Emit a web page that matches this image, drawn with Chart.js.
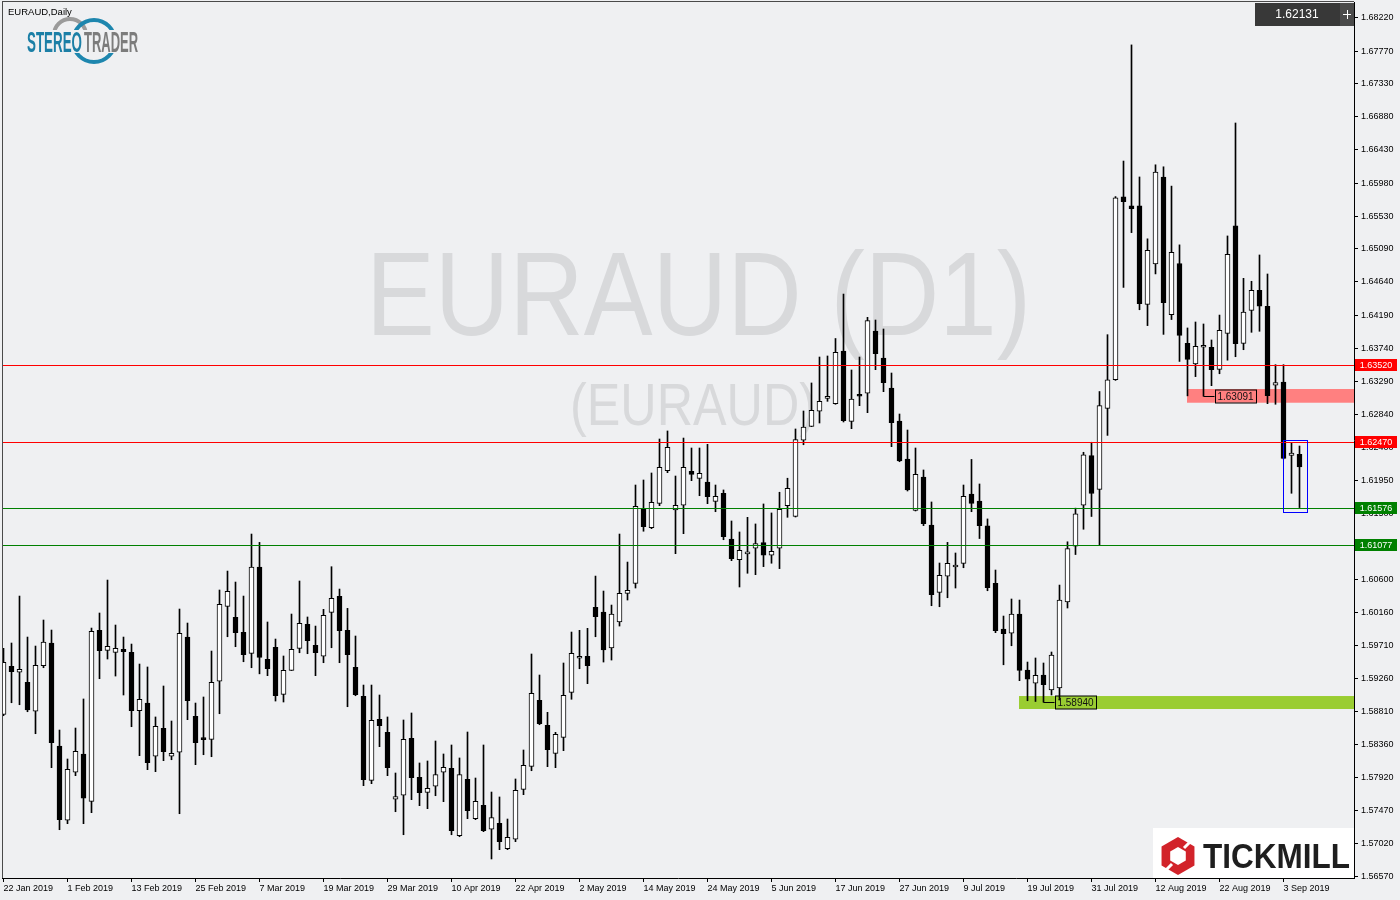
<!DOCTYPE html>
<html>
<head>
<meta charset="utf-8">
<title>EURAUD Daily</title>
<script src="https://cdn.jsdelivr.net/npm/chart.js@4.4.1/dist/chart.umd.min.js"></script>
<style>
html, body { margin: 0; padding: 0; background: #eff0f2; }
canvas { display: block; }
</style>
</head>
<body>
<canvas id="chart" width="1400" height="900"></canvas>
<script>
// date axis: a label every 8 bars
const tickIndex = [0, 8, 16, 24, 32, 40, 48, 56, 64, 72, 80, 88, 96, 104, 112, 120, 128, 136, 144, 152, 160];
const tickLabels = ['22 Jan 2019', '1 Feb 2019', '13 Feb 2019', '25 Feb 2019', '7 Mar 2019', '19 Mar 2019',
    '29 Mar 2019', '10 Apr 2019', '22 Apr 2019', '2 May 2019', '14 May 2019', '24 May 2019', '5 Jun 2019',
    '17 Jun 2019', '27 Jun 2019', '9 Jul 2019', '19 Jul 2019', '31 Jul 2019', '12 Aug 2019', '22 Aug 2019', '3 Sep 2019'];

const priceTicks = [1.68220, 1.67770, 1.67330, 1.66880, 1.66430, 1.65980, 1.65530, 1.65090, 1.64640,
    1.64190, 1.63740, 1.63290, 1.62840, 1.62400, 1.61950, 1.61500, 1.61060, 1.60600, 1.60160, 1.59710,
    1.59260, 1.58810, 1.58360, 1.57920, 1.57470, 1.57020, 1.56570];

// daily candles, 22 Jan 2019 - 5 Sep 2019
const opens = [
    1.58776, 1.59427, 1.59346, 1.59210, 1.58817, 1.59435, 1.59743, 1.58346, 1.57339, 1.57990,
    1.58238, 1.57596, 1.59915, 1.59644, 1.59617, 1.59657, 1.59617, 1.58825, 1.58929, 1.58207,
    1.58586, 1.58207, 1.58261, 1.59824, 1.58749, 1.58451, 1.58437, 1.59224, 1.60241, 1.60091,
    1.59889, 1.59603, 1.60774, 1.59522, 1.59685, 1.59047, 1.59373, 1.59671, 1.59997, 1.59712,
    1.59563, 1.60159, 1.60376, 1.59915, 1.59413, 1.59020, 1.57881, 1.58708, 1.58532, 1.57624,
    1.57678, 1.58451, 1.57922, 1.57718, 1.57800, 1.57990, 1.58044, 1.57130, 1.57894, 1.57361,
    1.57542, 1.57217, 1.57298, 1.56954, 1.57081, 1.57759, 1.58071, 1.58966, 1.58627, 1.58247,
    1.58464, 1.59074, 1.59536, 1.59563, 1.60227, 1.60163, 1.59675, 1.60028, 1.60417, 1.60553,
    1.61570, 1.61307, 1.61638, 1.62080, 1.61547, 1.61611, 1.62072, 1.61977, 1.61927, 1.61665,
    1.61774, 1.61154, 1.60873, 1.60951, 1.61028, 1.61104, 1.60934, 1.61028, 1.61606, 1.61461,
    1.62495, 1.62682, 1.62886, 1.63062, 1.62989, 1.63704, 1.62750, 1.63103, 1.63130, 1.63975,
    1.63609, 1.63202, 1.62754, 1.62239, 1.61543, 1.61995, 1.61344, 1.60430, 1.60648, 1.60774,
    1.60824, 1.61764, 1.61669, 1.61331, 1.60553, 1.59933, 1.59875, 1.60136, 1.59377, 1.59197,
    1.59309, 1.59106, 1.59133, 1.60299, 1.61056, 1.61614, 1.62284, 1.61825, 1.62925, 1.63314,
    1.65794, 1.65671, 1.65671, 1.64337, 1.64884, 1.66064, 1.64198, 1.64890, 1.63808, 1.63528,
    1.63754, 1.63754, 1.63455, 1.63943, 1.65400, 1.63808, 1.64255, 1.64527, 1.64310, 1.63241,
    1.63282, 1.62289, 1.62303
];
const highs = [
    1.59671, 1.59743, 1.60380, 1.59824, 1.59702, 1.60055, 1.59919, 1.58563, 1.58170, 1.58590,
    1.58984, 1.59946, 1.60150, 1.60597, 1.59987, 1.59824, 1.59729, 1.59458, 1.59418, 1.58740,
    1.59160, 1.58685, 1.60204, 1.60014, 1.58929, 1.59011, 1.59634, 1.60462, 1.60719, 1.60570,
    1.60380, 1.61221, 1.61108, 1.60028, 1.59797, 1.59567, 1.60136, 1.60584, 1.60096, 1.59973,
    1.60200, 1.60778, 1.60475, 1.60213, 1.59838, 1.59173, 1.59173, 1.59038, 1.58740, 1.57980,
    1.58699, 1.58794, 1.58116, 1.58143, 1.58414, 1.58238, 1.58360, 1.58184, 1.58536, 1.57912,
    1.58360, 1.57722, 1.57655, 1.57356, 1.57899, 1.58292, 1.59594, 1.59309, 1.58803, 1.58532,
    1.59472, 1.59892, 1.59915, 1.59942, 1.60651, 1.60448, 1.60258, 1.61221, 1.60841, 1.61886,
    1.61954, 1.62049, 1.62510, 1.62619, 1.62008, 1.62523, 1.62388, 1.62388, 1.62438, 1.61886,
    1.61819, 1.61398, 1.61249, 1.61448, 1.61358, 1.61629, 1.61507, 1.61788, 1.61978, 1.62646,
    1.62890, 1.63270, 1.63622, 1.63636, 1.63873, 1.64476, 1.63446, 1.63622, 1.64160, 1.64124,
    1.64002, 1.63405, 1.62849, 1.62632, 1.62388, 1.62090, 1.61656, 1.60828, 1.61108, 1.60964,
    1.61886, 1.62233, 1.61900, 1.61426, 1.60733, 1.60109, 1.60340, 1.60326, 1.59485, 1.59540,
    1.59472, 1.59621, 1.60529, 1.61116, 1.61572, 1.62330, 1.62466, 1.63154, 1.63925, 1.65798,
    1.66280, 1.67855, 1.66064, 1.65225, 1.66229, 1.66202, 1.65940, 1.65143, 1.64016, 1.64097,
    1.64070, 1.63853, 1.64191, 1.65264, 1.66796, 1.64689, 1.64649, 1.65006, 1.64748, 1.63518,
    1.63518, 1.62460, 1.62415
];
const lows = [
    1.58757, 1.58933, 1.58906, 1.58811, 1.58513, 1.59408, 1.58052, 1.57211, 1.57293, 1.57944,
    1.57293, 1.57442, 1.59259, 1.59526, 1.59295, 1.59038, 1.58608, 1.58215, 1.58025, 1.57998,
    1.58147, 1.58160, 1.57428, 1.58703, 1.58093, 1.58228, 1.58201, 1.58784, 1.59828, 1.59693,
    1.59489, 1.59408, 1.59325, 1.59300, 1.58956, 1.58943, 1.59370, 1.59611, 1.59598, 1.59300,
    1.59476, 1.59679, 1.59476, 1.58879, 1.59028, 1.57808, 1.57835, 1.58337, 1.57944, 1.57455,
    1.57143, 1.57618, 1.57537, 1.57496, 1.57672, 1.57591, 1.57143, 1.57116, 1.57361, 1.57347,
    1.57184, 1.56814, 1.56940, 1.56940, 1.57049, 1.57686, 1.58011, 1.58635, 1.58066, 1.58052,
    1.58283, 1.58980, 1.59394, 1.59192, 1.59828, 1.59485, 1.59512, 1.59973, 1.60326, 1.60489,
    1.61259, 1.61294, 1.61606, 1.62053, 1.60955, 1.61226, 1.61945, 1.61741, 1.61633, 1.61524,
    1.61144, 1.60860, 1.60503, 1.60689, 1.60670, 1.60779, 1.60825, 1.60752, 1.61448, 1.61452,
    1.62432, 1.62678, 1.62727, 1.63021, 1.62981, 1.62741, 1.62650, 1.62962, 1.62867, 1.63450,
    1.63152, 1.62406, 1.62202, 1.61805, 1.61534, 1.61335, 1.60249, 1.60235, 1.60357, 1.60489,
    1.60764, 1.61524, 1.61160, 1.60452, 1.59883, 1.59448, 1.59706, 1.59232, 1.58960, 1.58950,
    1.58940, 1.59038, 1.58970, 1.60218, 1.60943, 1.61286, 1.61459, 1.61070, 1.62559, 1.63305,
    1.64566, 1.65309, 1.64263, 1.64048, 1.64749, 1.63929, 1.64130, 1.63562, 1.63095, 1.63356,
    1.63091, 1.63233, 1.63395, 1.63579, 1.63626, 1.63721, 1.63957, 1.63971, 1.62989, 1.62981,
    1.62240, 1.61774, 1.61580
];
const closes = [
    1.59481, 1.59354, 1.59386, 1.58834, 1.59441, 1.59757, 1.58391, 1.57347, 1.58030, 1.58274,
    1.57639, 1.59902, 1.59639, 1.59698, 1.59671, 1.59625, 1.58825, 1.58980, 1.58120, 1.58613,
    1.58269, 1.58247, 1.59875, 1.58961, 1.58391, 1.58432, 1.59210, 1.60268, 1.60444, 1.59883,
    1.59584, 1.60774, 1.59549, 1.59394, 1.59028, 1.59373, 1.59657, 1.60010, 1.59774, 1.59611,
    1.60119, 1.60349, 1.59910, 1.59584, 1.59042, 1.57889, 1.58695, 1.58622, 1.58052, 1.57659,
    1.58437, 1.57916, 1.57713, 1.57773, 1.57959, 1.58057, 1.57198, 1.57959, 1.57469, 1.57596,
    1.57198, 1.57375, 1.57049, 1.57108, 1.57746, 1.58085, 1.59061, 1.58649, 1.58296, 1.58505,
    1.59034, 1.59603, 1.59557, 1.59435, 1.60100, 1.59648, 1.60136, 1.60417, 1.60458, 1.61598,
    1.61321, 1.61652, 1.62126, 1.62398, 1.61611, 1.62126, 1.62031, 1.62045, 1.61728, 1.61733,
    1.61185, 1.60887, 1.61001, 1.60974, 1.61091, 1.60934, 1.60988, 1.61557, 1.61842, 1.62501,
    1.62672, 1.62900, 1.63021, 1.63090, 1.63686, 1.62758, 1.63053, 1.63090, 1.64116, 1.63667,
    1.63274, 1.62731, 1.62212, 1.61819, 1.62031, 1.61362, 1.60398, 1.60662, 1.60824, 1.60801,
    1.61733, 1.61638, 1.61335, 1.60493, 1.59910, 1.59869, 1.60136, 1.59373, 1.59251, 1.59305,
    1.59177, 1.59581, 1.60326, 1.61024, 1.61496, 1.62297, 1.61771, 1.62962, 1.63314, 1.65780,
    1.65730, 1.65634, 1.64346, 1.65070, 1.66129, 1.64360, 1.65043, 1.63915, 1.63591, 1.63768,
    1.63781, 1.63450, 1.63984, 1.65016, 1.63803, 1.64232, 1.64527, 1.64310, 1.63097, 1.63276,
    1.62248, 1.62320, 1.62131
];

// drawn objects
const resistanceLevels = [1.63520, 1.62470];
const supportLevels = [1.61576, 1.61077];
const redZone = { from: 148, top: 1.63188, bottom: 1.63002 };
const greenZone = { from: 127, top: 1.59024, bottom: 1.58848 };
const priceMarks = [{ bar: 150, value: 1.63091 }, { bar: 130, value: 1.58940 }];
const focusBox = { from: 160, to: 163, top: 1.62492, bottom: 1.61516 };
const lastPrice = 1.62131;

const bodies = opens.map((o, i) => ({ x: i, y: [o, closes[i]] }));
const wicks = highs.map((h, i) => ({ x: i, y: [lows[i], h] }));
const bodyColors = opens.map((o, i) => closes[i] >= o ? '#ffffff' : '#000000');

const BG = '#eff0f2';
const AXIS_FONT = '"Liberation Sans", Arial, sans-serif';

// draws text squeezed/stretched to a given width
function stretchText(ctx, text, x, baseline, width, font, color) {
    ctx.font = font;
    const w = ctx.measureText(text).width;
    ctx.save();
    ctx.translate(x, baseline);
    ctx.scale(width / w, 1);
    ctx.fillStyle = color;
    ctx.textAlign = 'left';
    ctx.textBaseline = 'alphabetic';
    ctx.fillText(text, 0, 0);
    ctx.restore();
}

function hexPath(ctx, cx, cy, r) {
    ctx.beginPath();
    for (let k = 0; k < 6; k++) {
        const a = Math.PI / 180 * (60 * k - 90);
        const px = cx + r * Math.cos(a), py = cy + r * Math.sin(a);
        if (k === 0) ctx.moveTo(px, py); else ctx.lineTo(px, py);
    }
    ctx.closePath();
}

const mt4Plugin = {
    id: 'mt4',
    beforeDraw(chart) {
        const ctx = chart.ctx;
        ctx.save();
        ctx.fillStyle = BG;
        ctx.fillRect(0, 0, chart.width, chart.height);
        ctx.restore();
    },
    beforeDatasetsDraw(chart) {
        const { ctx, chartArea: a, scales: { x, y } } = chart;
        ctx.save();
        ctx.beginPath();
        ctx.rect(a.left, a.top, a.right - a.left, a.bottom - a.top);
        ctx.clip();

        // watermark
        stretchText(ctx, 'EURAUD (D1)', 366, 335, 665, '118px ' + AXIS_FONT, '#d8d9db');
        stretchText(ctx, '(EURAUD)', 570, 425, 246, '59px ' + AXIS_FONT, '#d8d9db');

        // zones
        ctx.fillStyle = '#ff8080';
        let zx = x.getPixelForValue(redZone.from) - 0.5;
        let y1 = y.getPixelForValue(redZone.top), y2 = y.getPixelForValue(redZone.bottom);
        ctx.fillRect(zx, y1, a.right - zx, y2 - y1);
        ctx.fillStyle = '#9acd32';
        zx = x.getPixelForValue(greenZone.from) - 0.5;
        y1 = y.getPixelForValue(greenZone.top); y2 = y.getPixelForValue(greenZone.bottom);
        ctx.fillRect(zx, y1, a.right - zx, y2 - y1);
        ctx.restore();
    },
    afterDatasetsDraw(chart) {
        const { ctx, chartArea: a, scales: { x, y } } = chart;
        ctx.save();
        ctx.beginPath();
        ctx.rect(a.left, a.top, a.right - a.left, a.bottom - a.top);
        ctx.clip();

        // horizontal levels
        ctx.lineWidth = 1;
        resistanceLevels.forEach(v => {
            const py = Math.round(y.getPixelForValue(v)) + 0.5;
            ctx.strokeStyle = '#ff0000';
            ctx.beginPath(); ctx.moveTo(a.left, py); ctx.lineTo(a.right, py); ctx.stroke();
        });
        supportLevels.forEach(v => {
            const py = Math.round(y.getPixelForValue(v)) + 0.5;
            ctx.strokeStyle = '#008000';
            ctx.beginPath(); ctx.moveTo(a.left, py); ctx.lineTo(a.right, py); ctx.stroke();
        });

        // price marks with connector
        ctx.font = '10px ' + AXIS_FONT;
        ctx.textAlign = 'center';
        ctx.textBaseline = 'middle';
        priceMarks.forEach(m => {
            const px = x.getPixelForValue(m.bar);
            const py = Math.round(y.getPixelForValue(m.value)) + 0.5;
            ctx.strokeStyle = '#000';
            ctx.beginPath(); ctx.moveTo(px, py); ctx.lineTo(px + 11, py); ctx.stroke();
            ctx.strokeRect(Math.round(px + 11) + 0.5, py - 6.5, 41, 13);
            ctx.fillStyle = '#111';
            ctx.fillText(m.value.toFixed(5), px + 32, py + 0.5);
        });

        // focus rectangle
        ctx.strokeStyle = '#0000ff';
        const bx1 = x.getPixelForValue(focusBox.from), bx2 = x.getPixelForValue(focusBox.to);
        const by1 = Math.round(y.getPixelForValue(focusBox.top)) + 0.5, by2 = Math.round(y.getPixelForValue(focusBox.bottom)) + 0.5;
        ctx.strokeRect(bx1, by1, bx2 - bx1, by2 - by1);

        // title and logo
        ctx.textAlign = 'left';
        ctx.textBaseline = 'alphabetic';
        ctx.fillStyle = '#000';
        ctx.font = '9.5px ' + AXIS_FONT;
        ctx.fillText('EURAUD,Daily', 8, 15);

        ctx.lineWidth = 4;
        ctx.strokeStyle = '#9b9b9b';
        ctx.beginPath(); ctx.arc(70, 35, 16, 0, Math.PI * 2); ctx.stroke();
        ctx.strokeStyle = '#1d86ae';
        ctx.beginPath(); ctx.arc(94, 41, 21, 0, Math.PI * 2); ctx.stroke();
        ctx.fillStyle = BG;
        ctx.fillRect(26, 30, 114, 23);
        stretchText(ctx, 'STEREO', 27, 52, 55, 'bold 29px ' + AXIS_FONT, '#1b7fa6');
        stretchText(ctx, 'TRADER', 84, 52, 54, 'bold 29px ' + AXIS_FONT, '#7c7c7c');

        // broker logo
        ctx.fillStyle = '#ffffff';
        ctx.fillRect(1153, 828, a.right - 1153, a.bottom - 828);
        hexPath(ctx, 1178, 856, 19);
        ctx.fillStyle = '#d2232a';
        ctx.fill();
        hexPath(ctx, 1178, 856, 9);
        ctx.fillStyle = '#ffffff';
        ctx.fill();
        ctx.strokeStyle = '#ffffff';
        ctx.lineWidth = 3;
        ctx.beginPath(); ctx.moveTo(1184, 848); ctx.lineTo(1196, 836); ctx.stroke();
        ctx.beginPath(); ctx.moveTo(1172, 864); ctx.lineTo(1160, 876); ctx.stroke();
        stretchText(ctx, 'TICKMILL', 1203, 868, 147, 'bold 35px ' + AXIS_FONT, '#1e1e1e');
        ctx.restore();
    },
    afterDraw(chart) {
        const { ctx, chartArea: a, scales: { y } } = chart;
        ctx.save();
        // frame
        ctx.fillStyle = '#4a4a4a';
        ctx.fillRect(a.left, 1, 1, a.bottom - 1);
        ctx.fillRect(a.left, 1, a.right - a.left, 1);

        // level tags on the price scale
        ctx.font = '9px ' + AXIS_FONT;
        ctx.textAlign = 'center';
        ctx.textBaseline = 'middle';
        const tag = (v, color) => {
            const py = Math.round(y.getPixelForValue(v));
            ctx.fillStyle = color;
            ctx.fillRect(a.right + 1, py - 6, 42, 12);
            ctx.fillStyle = '#ffffff';
            ctx.fillText(v.toFixed(5), a.right + 22, py + 0.5);
        };
        resistanceLevels.forEach(v => tag(v, '#ff0000'));
        supportLevels.forEach(v => tag(v, '#008000'));

        // last price box
        ctx.fillStyle = '#383838';
        ctx.fillRect(1255, 3, 85, 23);
        ctx.fillStyle = '#4a4a4a';
        ctx.fillRect(1340, 3, 14, 23);
        ctx.fillStyle = '#ffffff';
        ctx.font = '12px ' + AXIS_FONT;
        ctx.fillText(lastPrice.toFixed(5), 1297, 15);
        ctx.fillRect(1343, 14, 8, 1);
        ctx.fillRect(1347, 10, 1, 9);
        ctx.restore();
    }
};

const ctx = document.getElementById('chart').getContext('2d');

const chart = new Chart(ctx, {
    type: 'bar',
    data: {
        datasets: [{
            label: 'body',
            data: bodies,
            backgroundColor: bodyColors,
            borderColor: '#000000',
            borderWidth: 1,
            borderSkipped: false,
            barThickness: 5,
            minBarLength: 2,
            grouped: false,
            order: 0
        }, {
            label: 'wick',
            data: wicks,
            backgroundColor: '#000000',
            borderWidth: 0,
            barThickness: 1,
            grouped: false,
            order: 1
        }]
    },
    options: {
        responsive: false,
        animation: false,
        events: [],
        layout: { padding: { left: 2, top: 2, right: 0, bottom: 0 } },
        plugins: {
            legend: { display: false },
            tooltip: { enabled: false }
        },
        scales: {
            x: {
                type: 'linear',
                offset: false,
                min: -0.1875,
                max: 168.8125,
                afterBuildTicks: s => { s.ticks = tickIndex.map(v => ({ value: v })); },
                afterFit: s => { s.height = 22; s.paddingLeft = 0; s.paddingRight = 0; },
                grid: { offset: false, drawOnChartArea: false, tickLength: 4, color: '#000' },
                border: { color: '#000' },
                ticks: {
                    autoSkip: false,
                    maxRotation: 0,
                    minRotation: 0,
                    align: 'start',
                    padding: 1,
                    color: '#000',
                    font: { family: AXIS_FONT, size: 9 },
                    callback: v => tickLabels[tickIndex.indexOf(v)]
                }
            },
            y: {
                position: 'right',
                min: 1.56556,
                max: 1.68437,
                afterBuildTicks: s => { s.ticks = priceTicks.map(v => ({ value: v })); },
                afterFit: s => { s.width = 46; s.paddingTop = 0; s.paddingBottom = 0; },
                grid: { drawOnChartArea: false, tickLength: 4, color: '#000' },
                border: { color: '#000' },
                ticks: {
                    padding: 3,
                    color: '#000',
                    font: { family: AXIS_FONT, size: 9 },
                    callback: v => v.toFixed(5)
                }
            }
        }
    },
    plugins: [mt4Plugin]
});
</script>
</body>
</html>
